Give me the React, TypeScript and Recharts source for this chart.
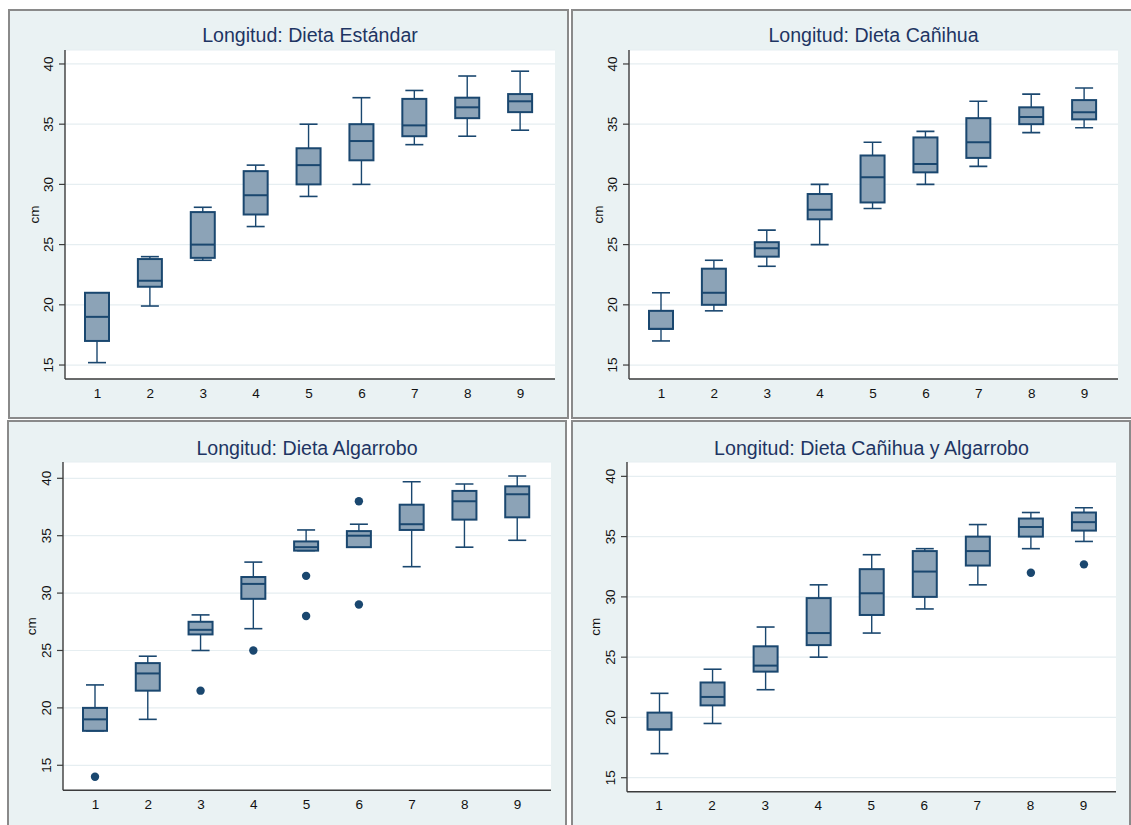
import React from 'react';
import { ComposedChart, Bar, XAxis, YAxis, CartesianGrid } from 'recharts';

// ---------- data ----------
const categories = ['1', '2', '3', '4', '5', '6', '7', '8', '9'];
const yTicks = [15, 20, 25, 30, 35, 40];

// Dieta Estándar
const estandarMin = [15.2, 19.9, 23.7, 26.5, 29.0, 30.0, 33.3, 34.0, 34.5];
const estandarQ1 = [17.0, 21.5, 23.9, 27.5, 30.0, 32.0, 34.0, 35.5, 36.0];
const estandarMed = [19.0, 22.0, 25.0, 29.1, 31.6, 33.6, 34.9, 36.4, 36.9];
const estandarQ3 = [21.0, 23.8, 27.7, 31.1, 33.0, 35.0, 37.1, 37.2, 37.5];
const estandarMax = [21.0, 24.0, 28.1, 31.6, 35.0, 37.2, 37.8, 39.0, 39.4];
const estandarOut: number[][] = [[], [], [], [], [], [], [], [], []];

// Dieta Cañihua
const canihuaMin = [17.0, 19.5, 23.2, 25.0, 28.0, 30.0, 31.5, 34.3, 34.7];
const canihuaQ1 = [18.0, 20.0, 24.0, 27.1, 28.5, 31.0, 32.2, 35.0, 35.4];
const canihuaMed = [18.0, 21.0, 24.7, 27.9, 30.6, 31.7, 33.5, 35.6, 36.0];
const canihuaQ3 = [19.5, 23.0, 25.2, 29.2, 32.4, 33.9, 35.5, 36.4, 37.0];
const canihuaMax = [21.0, 23.7, 26.2, 30.0, 33.5, 34.4, 36.9, 37.5, 38.0];
const canihuaOut: number[][] = [[], [], [], [], [], [], [], [], []];

// Dieta Algarrobo
const algarroboMin = [18.0, 19.0, 25.0, 26.9, 33.7, 34.0, 32.3, 34.0, 34.6];
const algarroboQ1 = [18.0, 21.5, 26.4, 29.5, 33.7, 34.0, 35.5, 36.4, 36.6];
const algarroboMed = [19.0, 23.0, 26.8, 30.8, 34.0, 35.0, 36.0, 38.0, 38.6];
const algarroboQ3 = [20.0, 23.9, 27.5, 31.4, 34.5, 35.4, 37.7, 38.9, 39.3];
const algarroboMax = [22.0, 24.5, 28.1, 32.7, 35.5, 36.0, 39.7, 39.5, 40.2];
const algarroboOut: number[][] = [[14.0], [], [21.5], [25.0], [31.5, 28.0], [38.0, 29.0], [], [], []];

// Dieta Cañihua y Algarrobo
const mixtaMin = [17.0, 19.5, 22.3, 25.0, 27.0, 29.0, 31.0, 34.0, 34.6];
const mixtaQ1 = [19.0, 21.0, 23.8, 26.0, 28.5, 30.0, 32.6, 35.0, 35.5];
const mixtaMed = [19.0, 21.7, 24.3, 27.0, 30.3, 32.1, 33.8, 35.8, 36.2];
const mixtaQ3 = [20.4, 22.9, 25.9, 29.9, 32.3, 33.8, 35.0, 36.5, 37.0];
const mixtaMax = [22.0, 24.0, 27.5, 31.0, 33.5, 34.0, 36.0, 37.0, 37.4];
const mixtaOut: number[][] = [[], [], [], [], [], [], [], [32.0], [32.7]];

// ---------- helpers ----------
type Row = {
  cat: string;
  box: [number, number];
  lo: number;
  q1: number;
  med: number;
  q3: number;
  hi: number;
  out: number[];
};

function buildRows(
  mn: number[],
  q1: number[],
  med: number[],
  q3: number[],
  mx: number[],
  out: number[][]
): Row[] {
  return categories.map((c, i) => ({
    cat: c,
    box: [q1[i], q3[i]],
    lo: mn[i],
    q1: q1[i],
    med: med[i],
    q3: q3[i],
    hi: mx[i],
    out: out[i],
  }));
}

const NAVY = '#1a476f';
const BOX_FILL = '#8ca3b7';
const FONT = '"Liberation Sans", Arial, Helvetica, sans-serif';

function BoxShape(props: any) {
  const { x, y, width, height, payload } = props;
  if (!payload || !isFinite(x) || !isFinite(y) || !isFinite(height)) return null;
  const top = Math.min(y, y + height);
  const h = Math.abs(height);
  const span = payload.q3 - payload.q1;
  const k = span > 0 ? h / span : 0;
  const py = (v: number) => top + (payload.q3 - v) * k;
  const cx = x + width / 2;
  const cap = 9;
  const yHi = py(payload.hi);
  const yLo = py(payload.lo);
  const yMed = py(payload.med);
  return (
    <g>
      <line x1={cx} x2={cx} y1={yHi} y2={top} stroke={NAVY} strokeWidth={1.4} />
      <line x1={cx - cap} x2={cx + cap} y1={yHi} y2={yHi} stroke={NAVY} strokeWidth={1.6} />
      <line x1={cx} x2={cx} y1={top + h} y2={yLo} stroke={NAVY} strokeWidth={1.4} />
      <line x1={cx - cap} x2={cx + cap} y1={yLo} y2={yLo} stroke={NAVY} strokeWidth={1.6} />
      <rect x={x} y={top} width={width} height={h} fill={BOX_FILL} stroke={NAVY} strokeWidth={2} />
      <line x1={x} x2={x + width} y1={yMed} y2={yMed} stroke={NAVY} strokeWidth={2} />
      {payload.out.map((v: number, j: number) => (
        <circle key={j} cx={cx} cy={py(v)} r={4.2} fill={NAVY} />
      ))}
    </g>
  );
}

function YTick(props: any) {
  const { x, y, payload } = props;
  return (
    <text
      x={x}
      y={y}
      transform={`rotate(-90 ${x} ${y})`}
      textAnchor="middle"
      fill="#111"
      fontSize={13.5}
      fontFamily={FONT}
    >
      {payload.value}
    </text>
  );
}

function CmLabel(props: any) {
  const vb = props.viewBox;
  if (!vb) return null;
  const x = vb.x + vb.width - 26.5;
  const y = vb.y + vb.height / 2;
  return (
    <text
      x={x}
      y={y}
      transform={`rotate(-90 ${x} ${y})`}
      textAnchor="middle"
      fill="#111"
      fontSize={13.5}
      fontFamily={FONT}
    >
      cm
    </text>
  );
}

type PanelCfg = {
  title: string;
  rows: Row[];
  left: number;
  top: number;
  w: number;
  h: number;
  yW: number;
  mt: number;
  mr: number;
  mb: number;
  domain: [number, number];
  padL: number;
  padR: number;
  titleBase: number;
};

const panels: PanelCfg[] = [
  {
    title: 'Longitud: Dieta Estándar',
    rows: buildRows(estandarMin, estandarQ1, estandarMed, estandarQ3, estandarMax, estandarOut),
    left: 8, top: 9, w: 561, h: 410, yW: 57, mt: 41, mr: 14, mb: 10,
    domain: [13.84, 41.16], padL: 6, padR: 8, titleBase: 34,
  },
  {
    title: 'Longitud: Dieta Cañihua',
    rows: buildRows(canihuaMin, canihuaQ1, canihuaMed, canihuaQ3, canihuaMax, canihuaOut),
    left: 571, top: 9, w: 562, h: 410, yW: 58, mt: 41, mr: 15, mb: 10,
    domain: [13.84, 41.16], padL: 6, padR: 7, titleBase: 34,
  },
  {
    title: 'Longitud: Dieta Algarrobo',
    rows: buildRows(algarroboMin, algarroboQ1, algarroboMed, algarroboQ3, algarroboMax, algarroboOut),
    left: 7, top: 420, w: 560, h: 410, yW: 56, mt: 42, mr: 16, mb: 9.7,
    domain: [12.82, 41.42], padL: 6, padR: 7, titleBase: 35.7,
  },
  {
    title: 'Longitud: Dieta Cañihua y Algarrobo',
    rows: buildRows(mixtaMin, mixtaQ1, mixtaMed, mixtaQ3, mixtaMax, mixtaOut),
    left: 571, top: 420, w: 560, h: 410, yW: 56, mt: 42, mr: 15, mb: 8.3,
    domain: [13.84, 41.19], padL: 5.5, padR: 6, titleBase: 35.7,
  },
];

const TITLE_SIZE = 19.6;

function Panel({ cfg }: { cfg: PanelCfg }) {
  const plotW = cfg.w - cfg.yW - cfg.mr;
  return (
    <>
      <div
        style={{
          position: 'absolute',
          left: cfg.left,
          top: cfg.top,
          width: cfg.w,
          height: cfg.h,
          boxSizing: 'border-box',
          border: '2px solid #8a8a8a',
          background: '#eaf2f3',
        }}
      />
      <div
        style={{
          position: 'absolute',
          left: cfg.left + cfg.yW,
          top: cfg.top + cfg.titleBase - 0.8465 * TITLE_SIZE,
          width: plotW,
          textAlign: 'center',
          fontFamily: FONT,
          fontSize: TITLE_SIZE,
          lineHeight: `${TITLE_SIZE}px`,
          color: '#1e3563',
          whiteSpace: 'nowrap',
        }}
      >
        {cfg.title}
      </div>
      <div style={{ position: 'absolute', left: cfg.left, top: cfg.top }}>
        <ComposedChart
          width={cfg.w}
          height={cfg.h}
          data={cfg.rows}
          margin={{ top: cfg.mt, right: cfg.mr, bottom: cfg.mb, left: 0 }}
        >
          <CartesianGrid vertical={false} fill="#ffffff" stroke="#e6eef1" strokeWidth={1.2} />
          <XAxis
            dataKey="cat"
            type="category"
            height={30}
            padding={{ left: cfg.padL, right: cfg.padR }}
            axisLine={{ stroke: '#3c3c3c', strokeWidth: 1.4 }}
            tickLine={false}
            tickSize={6}
            tickMargin={3}
            tick={{ fill: '#111', fontSize: 13.5, fontFamily: FONT }}
            interval={0}
          />
          <YAxis
            type="number"
            width={cfg.yW}
            domain={cfg.domain}
            ticks={yTicks}
            allowDataOverflow
            interval={0}
            axisLine={{ stroke: '#3c3c3c', strokeWidth: 1.4 }}
            tickLine={{ stroke: '#3c3c3c', strokeWidth: 1.2 }}
            tickSize={6}
            tickMargin={6}
            tick={<YTick />}
            label={<CmLabel />}
          />
          <Bar dataKey="box" barSize={24} shape={<BoxShape />} isAnimationActive={false} />
        </ComposedChart>
      </div>
    </>
  );
}

export default function App() {
  return (
    <div
      style={{
        position: 'absolute',
        left: 0,
        top: 0,
        width: 1131,
        height: 825,
        overflow: 'hidden',
        background: '#ffffff',
      }}
    >
      {panels.map((p, i) => (
        <Panel key={i} cfg={p} />
      ))}
    </div>
  );
}
